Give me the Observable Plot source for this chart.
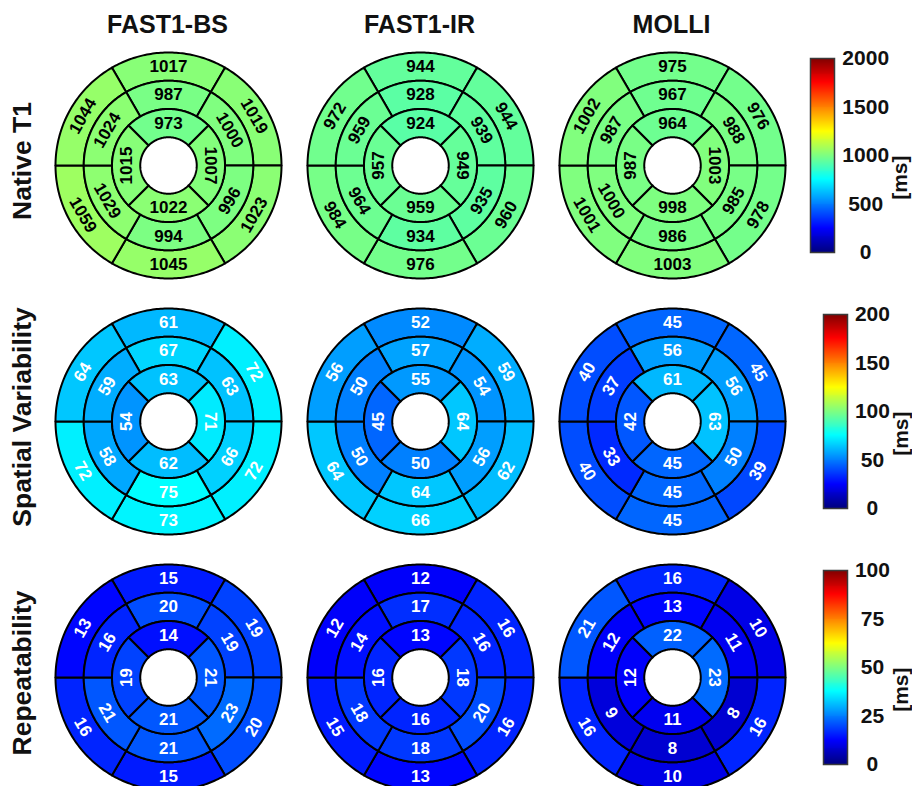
<!DOCTYPE html>
<html>
<head>
<meta charset="utf-8">
<script src="https://cdn.jsdelivr.net/npm/d3@7"></script>
<script src="https://cdn.jsdelivr.net/npm/@observablehq/plot@0.6"></script>
<style>
  body { margin: 0; background: #fff; }
  #fig { position: relative; width: 912px; height: 786px; overflow: hidden;
         font-family: "Liberation Sans", Arial, Helvetica, sans-serif; font-weight: bold; color: #111; }
  #fig > * { position: absolute; }
  .col-title { font-size: 25px; transform: translate(-50%, -50%); white-space: nowrap; }
  .row-title { font-size: 26.5px; transform: translate(-50%, -50%) rotate(-90deg); white-space: nowrap; }
  svg { overflow: visible; }
</style>
</head>
<body>
<div id="fig"></div>
<script>
// Methods (columns) and metrics (rows)
const methods = ["FAST1-BS", "FAST1-IR", "MOLLI"];
const metrics = ["Native T1", "Spatial Variability", "Repeatability"];
const colorMax = [2000, 200, 100];
const ticksT1 = [0, 500, 1000, 1500, 2000];
const ticksSV = [0, 50, 100, 150, 200];
const ticksRP = [0, 25, 50, 75, 100];

// 16-segment values, in order:
// basal [top, upper-right, lower-right, bottom, lower-left, upper-left],
// mid   [same six], apical [top, right, bottom, left]
const t1Fast1BS = [1017, 1019, 1023, 1045, 1059, 1044, 987, 1000, 996, 994, 1029, 1024, 973, 1007, 1022, 1015];
const t1Fast1IR = [944, 944, 960, 976, 984, 972, 928, 939, 935, 934, 964, 959, 924, 949, 959, 957];
const t1Molli   = [975, 976, 978, 1003, 1001, 1002, 967, 988, 985, 986, 1000, 987, 964, 1003, 998, 987];

const svFast1BS = [61, 72, 72, 73, 72, 64, 67, 63, 66, 75, 58, 59, 63, 71, 62, 54];
const svFast1IR = [52, 59, 62, 66, 64, 56, 57, 54, 56, 64, 50, 50, 55, 64, 50, 45];
const svMolli   = [45, 45, 39, 45, 40, 40, 56, 56, 50, 45, 33, 37, 61, 63, 45, 42];

const rpFast1BS = [15, 19, 20, 15, 16, 13, 20, 19, 23, 21, 21, 16, 14, 21, 21, 19];
const rpFast1IR = [12, 16, 16, 13, 15, 12, 17, 16, 20, 18, 18, 14, 13, 18, 16, 16];
const rpMolli   = [16, 10, 16, 10, 16, 21, 13, 11, 8, 8, 9, 12, 22, 23, 11, 12];

const grid = [
  [t1Fast1BS, t1Fast1IR, t1Molli],
  [svFast1BS, svFast1IR, svMolli],
  [rpFast1BS, rpFast1IR, rpMolli]
];
const tickSets = [ticksT1, ticksSV, ticksRP];
const textColors = ["#000", "#fff", "#fff"];

// MATLAB-style jet colormap as a Plot interpolator
function jet(t) {
  const c = v => Math.round(255 * Math.max(0, Math.min(1, v)));
  return `rgb(${c(1.5 - Math.abs(4 * t - 3))},${c(1.5 - Math.abs(4 * t - 2))},${c(1.5 - Math.abs(4 * t - 1))})`;
}

// Ring layout of the bullseye (radii in units of the outer radius)
const RINGS = [
  {r0: 0.75, r1: 1.00, centers: [90, 30, -30, -90, -150, 150], span: 60},
  {r0: 0.50, r1: 0.75, centers: [90, 30, -30, -90, -150, 150], span: 60},
  {r0: 0.25, r1: 0.50, centers: [90, 0, -90, 180], span: 90}
];
const rad = a => a * Math.PI / 180;

function segments(values) {
  const segs = [];
  let k = 0;
  for (const ring of RINGS) {
    for (const c of ring.centers) {
      let rot = 90 - c;
      while (rot > 90) rot -= 180;
      while (rot < -90) rot += 180;
      segs.push({id: k, value: values[k], r0: ring.r0, r1: ring.r1,
                 a0: c - ring.span / 2, a1: c + ring.span / 2, a: c, rot});
      k++;
    }
  }
  return segs;
}

function outline(seg) {
  const n = 60, pts = [];
  for (let i = 0; i <= n; i++) {
    const a = rad(seg.a0 + (seg.a1 - seg.a0) * i / n);
    pts.push({id: seg.id, value: seg.value, x: seg.r1 * Math.cos(a), y: seg.r1 * Math.sin(a)});
  }
  for (let i = n; i >= 0; i--) {
    const a = rad(seg.a0 + (seg.a1 - seg.a0) * i / n);
    pts.push({id: seg.id, value: seg.value, x: seg.r0 * Math.cos(a), y: seg.r0 * Math.sin(a)});
  }
  pts.push({...pts[0]});
  return pts;
}

const FONT = "Liberation Sans, Arial, Helvetica, sans-serif";
const R = 113;                       // outer radius in px
const colX = [167.5, 419.5, 671.5];  // bullseye centres
const rowY = [165, 421, 677];

function bullseye(values, max, textColor) {
  const segs = segments(values);
  const pts = segs.flatMap(outline);
  const rMid = d => (d.r0 + d.r1) / 2;
  return Plot.plot({
    width: 2 * R + 6, height: 2 * R + 6, margin: 3,
    style: {fontFamily: FONT, background: "transparent", overflow: "visible"},
    x: {domain: [-1, 1], axis: null},
    y: {domain: [-1, 1], axis: null},
    color: {type: "linear", domain: [0, max], interpolate: jet},
    marks: [
      Plot.line(pts, {x: "x", y: "y", z: "id", fill: "value", stroke: "#000",
                      strokeWidth: 2, strokeLinejoin: "round"}),
      Plot.text(segs, {
        x: d => rMid(d) * Math.cos(rad(d.a)),
        y: d => rMid(d) * Math.sin(rad(d.a)),
        text: d => String(d.value),
        rotate: d => d.rot,
        fill: textColor, fontSize: 17, fontWeight: "bold"
      })
    ]
  });
}

function colorbar(max, ticks) {
  const digits = String(max).length;
  const N = 200;
  const steps = d3.range(N).map(i => ({lo: i * max / N, hi: (i + 1) * max / N, mid: (i + 0.5) * max / N}));
  const barW = 24, right = 90;
  return {
    digits,
    node: Plot.plot({
      width: 1 + barW + right, height: 194 + 20,
      marginTop: 10, marginBottom: 10, marginLeft: 1, marginRight: right,
      style: {fontFamily: FONT, background: "transparent", overflow: "visible"},
      x: {axis: null},
      y: {domain: [0, max], axis: null},
      color: {type: "linear", domain: [0, max], interpolate: jet},
      marks: [
        Plot.rect(steps, {y1: "lo", y2: "hi", fill: "mid", shapeRendering: "crispEdges"}),
        Plot.frame({stroke: "#3a3a3a", strokeWidth: 1.5}),
        Plot.text(ticks, {y: d => d, text: d => String(d), frameAnchor: "right",
                          dx: 6 + digits * 6.3, textAnchor: "middle",
                          fontSize: 21, fontWeight: "bold", fill: "#111"}),
        Plot.text(["[ms]"], {text: d => d, frameAnchor: "right",
                             dx: 66 - (4 - digits) * 12, rotate: -90,
                             fontSize: 21, fontWeight: "bold", fill: "#111"})
      ]
    })
  };
}

const fig = document.getElementById("fig");

methods.forEach((m, j) => {
  const el = document.createElement("div");
  el.className = "col-title";
  el.textContent = m;
  el.style.left = colX[j] + "px";
  el.style.top = "24px";
  fig.appendChild(el);
});

metrics.forEach((name, i) => {
  const el = document.createElement("div");
  el.className = "row-title";
  el.textContent = name;
  el.style.left = "22px";
  el.style.top = (rowY[i] - 4) + "px";
  fig.appendChild(el);

  grid[i].forEach((values, j) => {
    const svg = bullseye(values, colorMax[i], textColors[i]);
    svg.style.left = (colX[j] - R - 3) + "px";
    svg.style.top = (rowY[i] - R - 3) + "px";
    fig.appendChild(svg);
  });

  const cb = colorbar(colorMax[i], tickSets[i]);
  const barLeft = 862 - 13 * cb.digits;
  cb.node.style.left = (barLeft - 1) + "px";
  cb.node.style.top = (rowY[i] - 10 - 97 - 10) + "px";
  fig.appendChild(cb.node);
});
</script>
</body>
</html>
